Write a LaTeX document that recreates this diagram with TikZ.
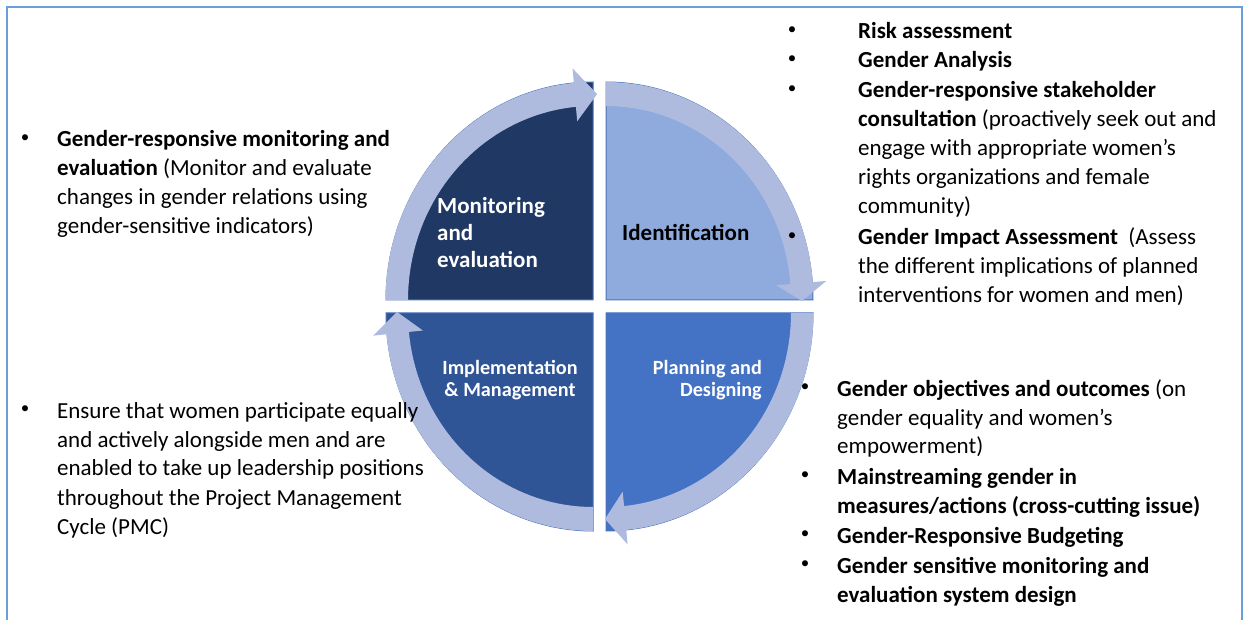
\documentclass[tikz,border=0pt]{standalone}
\usepackage{fontspec}
\setmainfont{Carlito}
\definecolor{framecol}{HTML}{6A9FD8}
\definecolor{navy}{HTML}{203864}
\definecolor{midblue}{HTML}{2F5597}
\definecolor{brightblue}{HTML}{4472C4}
\definecolor{paleblue}{HTML}{8FAADC}
\definecolor{bandcol}{HTML}{AEBBDF}
\definecolor{pieedge}{HTML}{4A73BD}

% quarter of the cycle: corner x, corner y, start angle, end angle, fill colour
\newcommand\quarterpie[5]{%
  \filldraw[fill=#5, draw=pieedge, line width=1pt]
    (#1,#2) -- plot[domain=#3:#4, samples=40] ({#1+207*cos(\x)},{#2+218*sin(\x)}) -- cycle;}

% curved band with an arrow head: corner x, corner y, tail angle, head base angle, tip angle
\newcommand\cyclearrow[5]{%
  \fill[bandcol]
    plot[domain=#3:#4, samples=40] ({#1+207.5*cos(\x)},{#2+218*sin(\x)})
    -- ({#1+221*cos(#4)},{#2+232.5*sin(#4)})
    -- ({#1+196*cos(#5)},{#2+206*sin(#5)})
    -- ({#1+171*cos(#4)},{#2+179.5*sin(#4)})
    -- plot[domain=#4:#3, samples=40] ({#1+185*cos(\x)},{#2+194*sin(\x)})
    -- cycle;}

\tikzset{
  bodytext/.style={anchor=base west, inner sep=0pt, font=\fontsize{23}{29}\selectfont},
  bul/.style={anchor=base, inner sep=0pt, font=\fontsize{17}{19}\selectfont},
  biglabel/.style={inner sep=0pt, font=\bfseries\fontsize{23}{27}\selectfont},
  smalllabel/.style={inner sep=0pt, text=white, font=\bfseries\fontsize{20.2}{23}\selectfont}
}
\newcommand\bulletdot{\raisebox{4.5pt}{•}}

\begin{document}
\begin{tikzpicture}[x=1pt,y=-1pt]
\useasboundingbox (0,0) rectangle (1243,620);
\fill[white] (0,0) rectangle (1243,620);

% outer frame (open at the bottom)
\draw[framecol, line width=2.5pt] (7,621) -- (7,7) -- (1242,7) -- (1242,621);

% four quarters
\quarterpie{593}{300}{180}{270}{navy}
\quarterpie{606}{300}{270}{360}{paleblue}
\quarterpie{606}{313}{0}{90}{brightblue}
\quarterpie{593}{313}{90}{180}{midblue}

% clockwise arrows round the cycle
\cyclearrow{593}{300}{180}{264.7}{271.2}
\cyclearrow{606}{300}{270}{355.3}{360.3}
\cyclearrow{606}{313}{0}{84.4}{90.3}
\cyclearrow{593}{313}{90}{174.4}{180.3}

% quarter labels
\node[biglabel, text=white, anchor=base west] (me) at (437,214)
  {\parbox[t]{150pt}{Monitoring\\and\\evaluation}};
\node[biglabel, text=black, anchor=base west] (idf) at (622,241) {Identification};
\node[smalllabel, anchor=base] (impl) at (510,374)
  {\parbox[t]{200pt}{\centering Implementation\\\& Management}};
\node[smalllabel, anchor=base east] (plan) at (762,374)
  {\parbox[t]{200pt}{\raggedleft Planning and\\Designing}};

% left, upper list
\node[bul] (bl1) at (25,147) {\bulletdot};
\node[bodytext] (tl1) at (57,147) {\parbox[t]{400pt}{\textbf{Gender-responsive monitoring and}\\
  \textbf{evaluation} (Monitor and evaluate\\
  changes in gender relations using\\
  gender-sensitive indicators)}};

% left, lower list
\node[bul] (bl2) at (25,418) {\bulletdot};
\node[bodytext] (tl2) at (57,418) {\parbox[t]{400pt}{Ensure that women participate equally\\
  and actively alongside men and are\\
  enabled to take up leadership positions\\
  throughout the Project Management\\
  Cycle (PMC)}};

% right, upper list
\node[bul] (br1) at (792,39) {\bulletdot};
\node[bodytext] (tr1) at (858,39) {\textbf{Risk assessment}};
\node[bul] (br2) at (792,68) {\bulletdot};
\node[bodytext] (tr2) at (858,68) {\textbf{Gender Analysis}};
\node[bul] (br3) at (792,98) {\bulletdot};
\node[bodytext] (tr3) at (858,98) {\parbox[t]{400pt}{\textbf{Gender-responsive stakeholder}\\
  \textbf{consultation} (proactively seek out and\\
  engage with appropriate women’s\\
  rights organizations and female\\
  community)}};
\node[bul] (br4) at (792,245) {\bulletdot};
\node[bodytext] (tr4) at (858,245) {\parbox[t]{400pt}{\textbf{Gender Impact Assessment}\ \ (Assess\\
  the different implications of planned\\
  interventions for women and men)}};

% right, lower list
\node[bul] (br5) at (805,396) {\bulletdot};
\node[bodytext] (tr5) at (837,396) {\parbox[t]{400pt}{\textbf{Gender objectives and outcomes} (on\\
  gender equality and women’s\\
  empowerment)}};
\node[bul] (br6) at (805,484) {\bulletdot};
\node[bodytext] (tr6) at (837,484) {\parbox[t]{400pt}{\textbf{Mainstreaming gender in}\\
  \textbf{measures/actions (cross-cutting issue)}}};
\node[bul] (br7) at (805,543) {\bulletdot};
\node[bodytext] (tr7) at (837,543) {\textbf{Gender-Responsive Budgeting}};
\node[bul] (br8) at (805,573) {\bulletdot};
\node[bodytext] (tr8) at (837,573) {\parbox[t]{400pt}{\textbf{Gender sensitive monitoring and}\\
  \textbf{evaluation system design}}};
\end{tikzpicture}
\end{document}
